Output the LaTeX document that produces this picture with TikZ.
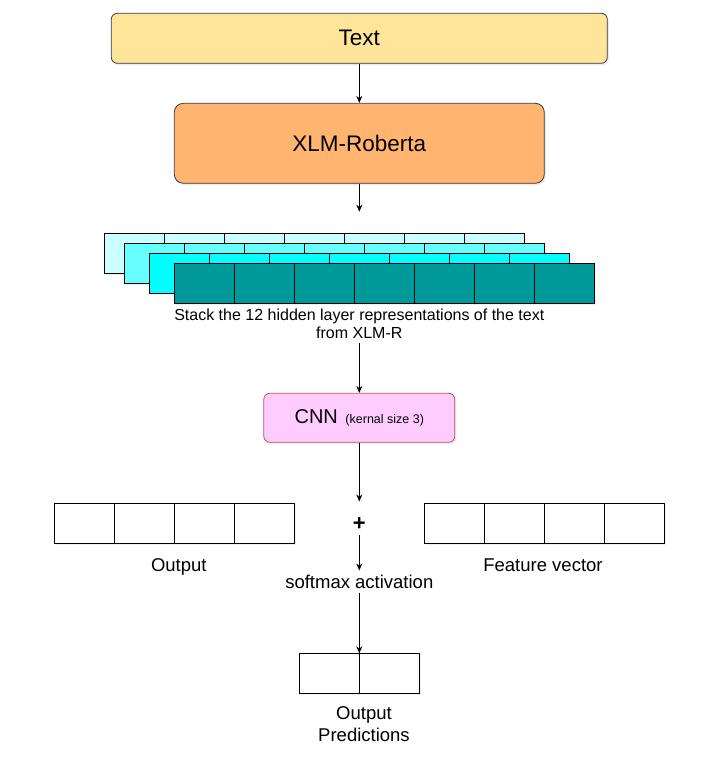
\documentclass[tikz,border=0pt]{standalone}
\usepackage{fontspec}
\setmainfont{Liberation Sans}
\usetikzlibrary{arrows.meta,shadows}
\definecolor{edge}{HTML}{36393D}
\definecolor{textfill}{HTML}{FFE599}
\definecolor{xlmfill}{HTML}{FFB570}
\definecolor{cnnfill}{HTML}{FFCCFF}
\definecolor{cnnline}{HTML}{B85450}
\definecolor{layerA}{HTML}{CCFFFF}
\definecolor{layerB}{HTML}{66FFFF}
\definecolor{layerC}{HTML}{00FFFF}
\definecolor{layerD}{HTML}{009999}

\begin{document}
\begin{tikzpicture}[x=1pt,y=-1pt,>={Stealth[length=7pt,width=6pt]},
  box/.style={draw=edge,line width=0.8pt,rounded corners=6pt,inner sep=0pt,
    drop shadow={opacity=0.15,shadow xshift=1.5pt,shadow yshift=-2pt}},
  cell/.style={draw=black,fill=white,line width=0.9pt,minimum width=60pt,minimum height=40pt,
    inner sep=0pt,outer sep=0pt,
    drop shadow={opacity=0.12,shadow xshift=1.5pt,shadow yshift=-2pt}},
  lbl/.style={font=\fontsize{18.5}{21.7}\selectfont,inner sep=0pt},
  flow/.style={->,line width=0.8pt}]
  \useasboundingbox (0,0) rectangle (718,780);
  % encoder part
  \node[box,fill=textfill,minimum width=496pt,minimum height=50pt,
        font=\fontsize{22.5}{26}\selectfont] (text) at (359.3,38.3) {Text};
  \node[box,fill=xlmfill,rounded corners=9pt,minimum width=370pt,minimum height=80pt,
        font=\fontsize{22.5}{26}\selectfont] (xlm) at (359.3,143.3) {XLM-Roberta};
  \coordinate (xlmout) at (359.3,211.7);
  \draw[flow] (text) -- (xlm);
  \draw[flow] (xlm) -- (xlmout);

  % the 12 hidden layers, drawn back to front
  \foreach \lay/\lx/\ly/\col in {a/104.7/233.3/layerA,b/124.3/243.3/layerB,
                                 c/149.3/253.3/layerC,d/174.3/263.3/layerD}{
    \foreach \i in {1,...,7}
      \node[cell,fill=\col] (\lay\i) at ({\lx+60*\i-30},{\ly+20}) {};
  }
  \node[font=\fontsize{16}{18.3}\selectfont,inner sep=0pt,align=center,anchor=north]
       (stacktxt) at (359.3,308.3)
       {Stack the 12 hidden layer representations of the text\\from XLM-R};

  % classifier part
  \node[box,draw=cnnline,fill=cnnfill,minimum width=191pt,minimum height=49pt]
       (cnn) at (359.3,417.8)
       {\fontsize{20}{24}\selectfont CNN\hspace{2pt} \fontsize{12.5}{15}\selectfont(kernal size 3)};
  \draw[flow,shorten <=4.5pt] (stacktxt.south) -- (cnn.north);

  \node[font=\fontsize{22}{24}\selectfont\bfseries,inner sep=0pt,
        text height=28.3pt,text depth=4.4pt,anchor=base] (plus) at (359.3,530) {+};
  \draw[flow] (cnn) -- (plus);

  \foreach \i in {1,...,4}{
    \node[cell] (out\i) at ({54.3+60*\i-30},523.3) {};
    \node[cell] (feat\i) at ({424.5+60*\i-30},523.3) {};
  }
  \node[lbl,anchor=base] (outlbl) at (178.8,571.5) {Output};
  \node[lbl,anchor=base] (featlbl) at (543,571.5) {Feature vector};
  \node[lbl,anchor=base,text height=17.3pt,text depth=4.7pt]
       (softmax) at (359.3,588) {softmax activation};
  \draw[flow] (plus) -- (softmax);

  % prediction
  \node[cell] (pred1) at (329.3,673.3) {};
  \node[cell] (pred2) at (389.3,673.3) {};
  \draw[flow] (softmax.south) -- (pred1.north east);
  \node[lbl,align=center,anchor=north] (predlbl) at (364,706.3) {Output\\Predictions};
\end{tikzpicture}
\end{document}
